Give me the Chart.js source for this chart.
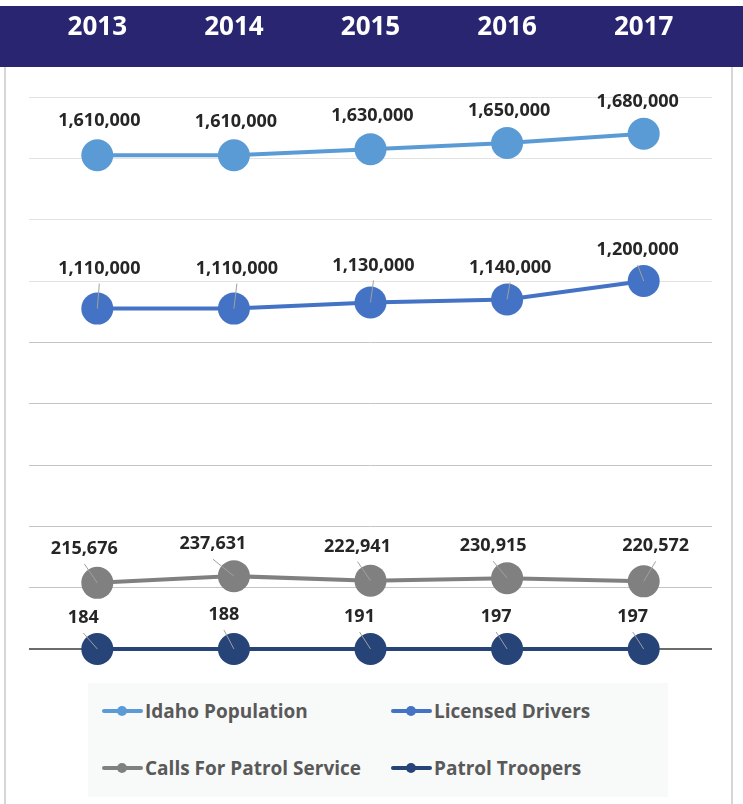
<!DOCTYPE html>
<html>
<head>
<meta charset="utf-8">
<script src="https://cdn.jsdelivr.net/npm/chart.js@4"></script>
<style>
  body { margin: 0; background: #fff; }
  #wrap { position: relative; width: 743px; height: 804px; }
  #legend {
    position: absolute; left: 88px; top: 683px; width: 580px; height: 114px;
    background: #f8f9f9;
  }
  .item {
    position: absolute; display: flex; align-items: center;
    font-family: 'Open Sans', sans-serif; font-weight: bold; font-size: 19px; color: #595959;
  }
  .mark { position: relative; width: 41px; height: 12px; margin-right: 2px; }
  .mark .ln { position: absolute; left: 0; right: 0; top: 4px; height: 4px; border-radius: 2px; }
  .mark .dt { position: absolute; left: 15px; top: 1px; width: 10px; height: 10px; border-radius: 50%; }
</style>
</head>
<body>
<div id="wrap">
  <canvas id="chart" width="743" height="804"></canvas>
  <div id="legend"></div>
</div>
<script>
const years = ['2013', '2014', '2015', '2016', '2017'];
const idahoPopulation = [1610000, 1610000, 1630000, 1650000, 1680000];
const licensedDrivers = [1110000, 1110000, 1130000, 1140000, 1200000];
const patrolCalls = [215676, 237631, 222941, 230915, 220572];
const patrolTroopers = [184, 188, 191, 197, 197];

const seriesNames = ['Idaho Population', 'Licensed Drivers', 'Calls For Patrol Service', 'Patrol Troopers'];
const seriesColors = ['#5b9bd5', '#4472c4', '#808080', '#264478'];

// label placement per series: [dx, dy] from the point, leader lines or not
const labelStyle = [
  { off: [[2, -34], [2, -33], [2, -33], [2, -32], [-6, -32]], leader: false },
  { off: [[2, -40], [3, -40], [3, -37], [3, -32], [-6, -31]], leader: true },
  { off: [[-13, -34], [-21, -32], [-13, -34], [-14, -32], [12, -35]], leader: true },
  { off: [[-14, -31], [-10, -34], [-11, -32], [-11, -32], [-11, -32]], leader: true }
];

const font = "'Open Sans', sans-serif";

const framePlugin = {
  id: 'frame',
  beforeDraw(chart) {
    const ctx = chart.ctx;
    ctx.save();
    ctx.fillStyle = '#fff';
    ctx.fillRect(0, 0, chart.width, chart.height);
    ctx.fillStyle = '#2a2570';
    ctx.fillRect(0, 6, chart.width, 61);
    ctx.strokeStyle = '#d6d6d6';
    ctx.lineWidth = 2;
    ctx.beginPath();
    ctx.moveTo(5, 67); ctx.lineTo(5, chart.height);
    ctx.moveTo(732, 67); ctx.lineTo(732, chart.height);
    ctx.stroke();
    // year headings, placed by the category scale
    const xs = chart.scales.x;
    ctx.fillStyle = '#ffffff';
    ctx.font = 'bold 26px ' + font;
    ctx.textAlign = 'center';
    ctx.textBaseline = 'middle';
    chart.data.labels.forEach((lab, i) => {
      ctx.fillText(lab, xs.getPixelForValue(i), 28);
    });
    ctx.restore();
  }
};

const labelPlugin = {
  id: 'valueLabels',
  afterDatasetsDraw(chart) {
    const ctx = chart.ctx;
    ctx.save();
    chart.data.datasets.forEach((ds, i) => {
      const meta = chart.getDatasetMeta(i);
      const st = labelStyle[i];
      meta.data.forEach((pt, j) => {
        const lx = pt.x + st.off[j][0];
        const ly = pt.y + st.off[j][1];
        if (st.leader) {
          ctx.strokeStyle = '#a0a0a0';
          ctx.lineWidth = 1;
          ctx.beginPath();
          ctx.moveTo(lx, ly + 15);
          ctx.lineTo(pt.x, pt.y);
          ctx.stroke();
        }
        ctx.fillStyle = '#262626';
        ctx.font = 'bold 18px ' + font;
        ctx.textAlign = 'center';
        ctx.textBaseline = 'middle';
        ctx.fillText(ds.data[j].toLocaleString('en-US'), lx, ly);
      });
    });
    ctx.restore();
  }
};

const makeSet = (i, data) => ({
  label: seriesNames[i],
  data: data,
  borderColor: seriesColors[i],
  backgroundColor: seriesColors[i],
  pointBackgroundColor: seriesColors[i],
  borderWidth: 4,
  pointRadius: 16,
  pointHoverRadius: 16,
  pointBorderWidth: 0,
  tension: 0,
  clip: false
});

const chart = new Chart(document.getElementById('chart'), {
  type: 'line',
  data: {
    labels: years,
    datasets: [
      makeSet(0, idahoPopulation),
      makeSet(1, licensedDrivers),
      makeSet(2, patrolCalls),
      makeSet(3, patrolTroopers)
    ]
  },
  options: {
    responsive: false,
    animation: false,
    layout: { padding: { top: 97, left: 29, right: 31, bottom: 155 } },
    plugins: {
      legend: { display: false },
      tooltip: { enabled: false }
    },
    scales: {
      x: {
        display: false,
        offset: true
      },
      y: {
        min: 0,
        max: 1800000,
        border: { display: false },
        ticks: { stepSize: 200000, display: false },
        grid: {
          drawTicks: false,
          color: c => c.tick.value === 0 ? '#6b6b6b' : (c.tick.value >= 1200000 ? '#e3e3e3' : '#c4c4c4'),
          lineWidth: c => c.tick.value === 0 ? 2 : 1
        }
      }
    }
  },
  plugins: [framePlugin, labelPlugin]
});

// legend from the datasets
const legendPos = [[14, 28], [303, 28], [14, 85], [303, 85]];
const legend = document.getElementById('legend');
chart.data.datasets.forEach((ds, i) => {
  const it = document.createElement('div');
  it.className = 'item';
  it.style.left = legendPos[i][0] + 'px';
  it.style.top = (legendPos[i][1] - 13) + 'px';
  it.innerHTML = '<span class="mark"><span class="ln" style="background:' + ds.borderColor +
    '"></span><span class="dt" style="background:' + ds.borderColor + '"></span></span>' + ds.label;
  legend.appendChild(it);
});
</script>
</body>
</html>
